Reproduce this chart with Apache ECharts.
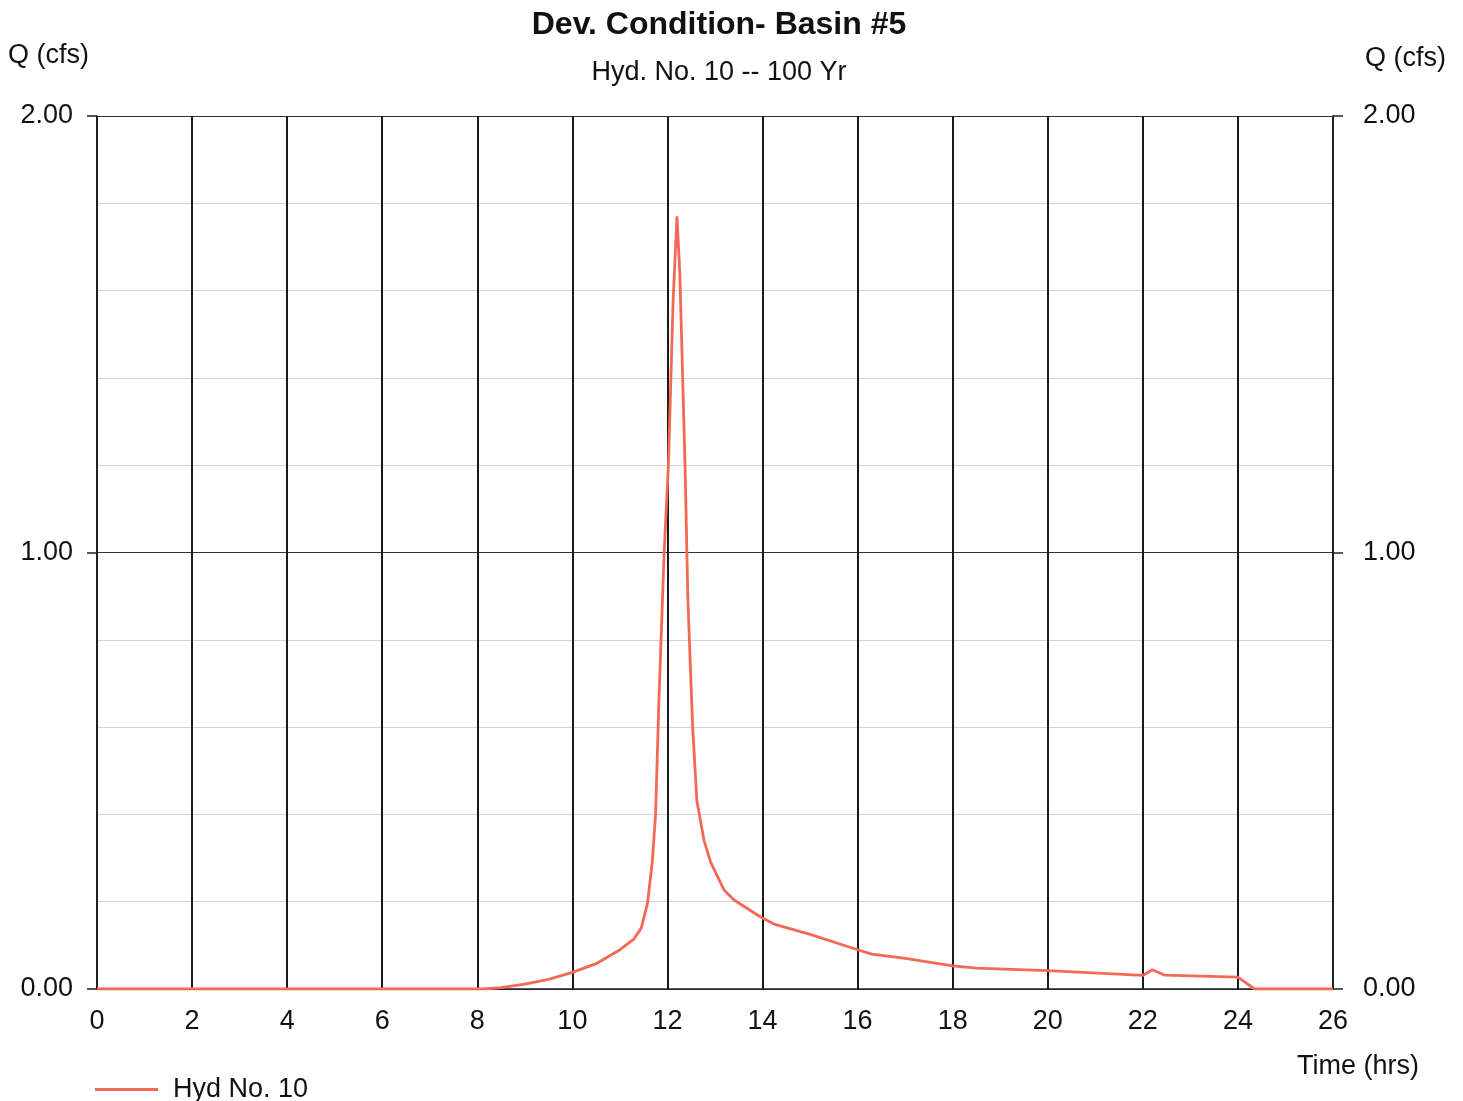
<!DOCTYPE html>
<html>
<head>
<meta charset="utf-8">
<title>Dev. Condition- Basin #5</title>
<script src="https://cdn.jsdelivr.net/npm/echarts@6/dist/echarts.min.js"></script>
<style>
  html, body { margin: 0; padding: 0; background: #fff; }
  #chart { width: 1463px; height: 1101px; }
</style>
</head>
<body>
<div id="chart"></div>
<script>
// hydrograph: time (hrs) and flow (cfs)
var timeHrs = [0, 8.1, 8.5, 9, 9.5, 10, 10.5, 11, 11.3, 11.45, 11.58, 11.68, 11.75, 11.82, 11.93, 12.02, 12.12, 12.2,
    12.26, 12.37, 12.43, 12.53, 12.62, 12.77, 12.91, 13.19, 13.4, 13.96, 14.26, 15, 16, 16.3, 17, 18, 18.5, 20,
    22, 22.2, 22.45, 24, 24.35, 26];
var flowCfs = [0, 0, 0.003, 0.011, 0.022, 0.038, 0.058, 0.09, 0.115, 0.14, 0.196, 0.29, 0.40, 0.66, 1.0, 1.2, 1.58, 1.77,
    1.64, 1.2, 0.89, 0.6, 0.43, 0.34, 0.29, 0.227, 0.204, 0.165, 0.148, 0.125, 0.09, 0.08, 0.07, 0.053, 0.048, 0.042,
    0.031, 0.044, 0.032, 0.027, 0, 0];
var seriesName = 'Hyd No. 10';

var font = '"Liberation Sans", Arial, sans-serif';
var ink = '#111';

var points = [];
for (var i = 0; i < timeHrs.length; i++) {
    points.push([timeHrs[i], flowCfs[i]]);
}

// outer axis: line, ticks and labels only at 0 / 1 / 2
function yAxisOpt(pos, margin) {
    return {
        type: 'value',
        position: pos,
        min: 0,
        max: 2,
        interval: 1,
        axisLine: { show: true, lineStyle: { color: '#222', width: 1.5 } },
        axisTick: { show: true, length: 10, lineStyle: { color: '#222', width: 1.5 } },
        axisLabel: {
            margin: margin,
            color: ink,
            fontFamily: font,
            fontSize: 27,
            formatter: function (v) { return v.toFixed(2); }
        },
        splitLine: { show: false }
    };
}

var myChart = echarts.init(document.getElementById('chart'));
var option = {
    backgroundColor: '#fff',
    animation: false,
    title: {
        text: 'Dev. Condition- Basin #5',
        subtext: 'Hyd. No. 10 -- 100 Yr',
        left: 714,
        top: 4,
        textAlign: 'center',
        itemGap: 18,
        textStyle: { color: ink, fontFamily: font, fontSize: 32, fontWeight: 'bold' },
        subtextStyle: { color: ink, fontFamily: font, fontSize: 27 }
    },
    legend: {
        left: 90,
        top: 1071,
        icon: 'path://M0,0 L63,0 L63,3 L0,3 Z',
        itemWidth: 63,
        itemHeight: 3,
        textStyle: { color: ink, fontFamily: font, fontSize: 27, padding: [0, 0, 0, 10] },
        data: [seriesName]
    },
    grid: { left: 97, right: 130, top: 116, bottom: 112 },
    xAxis: {
        type: 'value',
        min: 0,
        max: 26,
        interval: 2,
        axisLine: { show: true, lineStyle: { color: '#222', width: 1.5 } },
        axisTick: { show: false },
        axisLabel: { margin: 19, color: ink, fontFamily: font, fontSize: 27 },
        splitLine: { show: true, lineStyle: { color: '#1a1a1a', width: 2 } }
    },
    yAxis: [
        yAxisOpt('left', 24),
        yAxisOpt('right', 30),
        {
            // grid lines every 0.2, dark at whole numbers
            type: 'value',
            position: 'left',
            min: 0,
            max: 2,
            interval: 0.2,
            axisLine: { show: false },
            axisTick: { show: false },
            axisLabel: { show: false },
            splitLine: {
                show: true,
                lineStyle: { color: ['#333', '#d4d4d4', '#d4d4d4', '#d4d4d4', '#d4d4d4'], width: 1 }
            },
            z: 0
        }
    ],
    graphic: [
        { type: 'text', left: 8, top: 42, style: { text: 'Q (cfs)', fill: ink, font: '27px ' + font } },
        { type: 'text', left: 1365, top: 45, style: { text: 'Q (cfs)', fill: ink, font: '27px ' + font } },
        { type: 'text', left: 1297, top: 1053, style: { text: 'Time (hrs)', fill: ink, font: '27px ' + font } }
    ],
    series: [{
        name: seriesName,
        type: 'line',
        symbol: 'none',
        smooth: false,
        color: '#f26a55',
        lineStyle: { color: '#f26a55', width: 2.8 },
        data: points,
        z: 5
    }]
};
myChart.setOption(option);
</script>
</body>
</html>
